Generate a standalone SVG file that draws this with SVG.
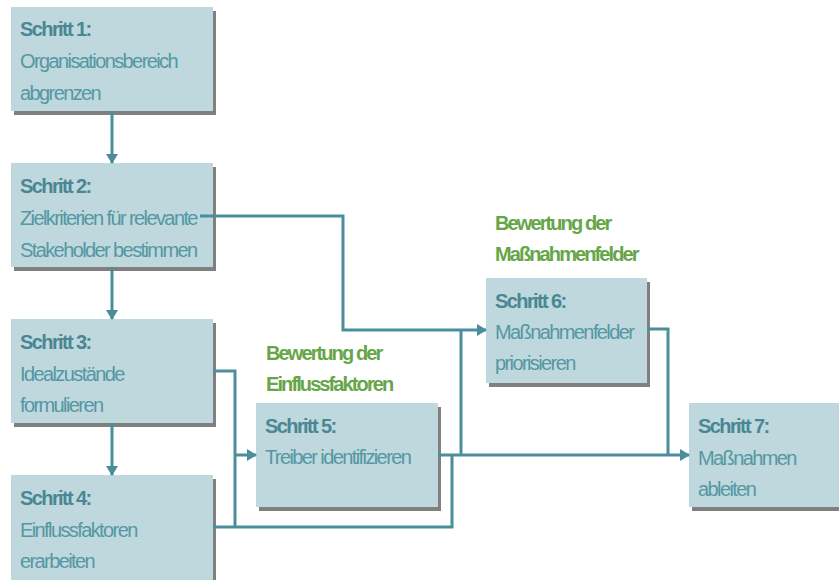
<svg xmlns="http://www.w3.org/2000/svg" width="839" height="580" viewBox="0 0 839 580">
<defs>
<style>
.box{fill:#bed8de}
.sh{fill:#808080}
text{font-family:"Liberation Sans",Arial,sans-serif;font-size:20px;letter-spacing:-1.6px}
.t{font-weight:bold;fill:#4a8794}
.b{fill:#5597a3}
.g{font-weight:bold;fill:#66a648;letter-spacing:-1.9px}
.c{fill:none;stroke:#4a8e9c;stroke-width:3}
</style>
<marker id="ah" markerUnits="userSpaceOnUse" markerWidth="10" markerHeight="12" refX="9" refY="6" orient="auto">
<path d="M0,0 L10,6 L0,12 z" fill="#4a8e9c"/>
</marker>
</defs>
<rect width="839" height="580" fill="#ffffff"/>

<g id="step1">
<rect class="sh" x="14" y="11" width="202" height="104"/>
<rect class="box" x="11" y="7" width="202" height="104"/>
<text class="t" x="20" y="36">Schritt 1:</text>
<text class="b" x="20" y="68">Organisationsbereich</text>
<text class="b" x="20" y="100">abgrenzen</text>
</g>

<g id="step2">
<rect class="sh" x="14" y="167" width="202" height="104"/>
<rect class="box" x="11" y="163" width="202" height="104"/>
<text class="t" x="20" y="193">Schritt 2:</text>
<text class="b" x="20" y="225">Zielkriterien für relevante</text>
<text class="b" x="20" y="257">Stakeholder bestimmen</text>
</g>

<g id="step3">
<rect class="sh" x="14" y="323" width="202" height="104"/>
<rect class="box" x="11" y="319" width="202" height="104"/>
<text class="t" x="20" y="349">Schritt 3:</text>
<text class="b" x="20" y="381">Idealzustände</text>
<text class="b" x="20" y="412">formulieren</text>
</g>

<g id="step4">
<rect class="sh" x="14" y="479" width="202" height="104"/>
<rect class="box" x="11" y="475" width="202" height="110"/>
<text class="t" x="20" y="505">Schritt 4:</text>
<text class="b" x="20" y="537">Einflussfaktoren</text>
<text class="b" x="20" y="568">erarbeiten</text>
</g>

<g id="label5">
<text class="g" x="266" y="360">Bewertung der</text>
<text class="g" x="266" y="391">Einflussfaktoren</text>
</g>

<g id="step5">
<rect class="sh" x="259" y="407" width="182" height="104"/>
<rect class="box" x="256" y="403" width="182" height="104"/>
<text class="t" x="265" y="433">Schritt 5:</text>
<text class="b" x="265" y="464">Treiber identifizieren</text>
</g>

<g id="label6">
<text class="g" x="495" y="230">Bewertung der</text>
<text class="g" x="495" y="261">Maßnahmenfelder</text>
</g>

<g id="step6">
<rect class="sh" x="489" y="282" width="161" height="105"/>
<rect class="box" x="486" y="278" width="161" height="105"/>
<text class="t" x="495" y="308">Schritt 6:</text>
<text class="b" x="495" y="339">Maßnahmenfelder</text>
<text class="b" x="495" y="370">priorisieren</text>
</g>

<g id="step7">
<rect class="sh" x="692" y="407" width="150" height="104"/>
<rect class="box" x="689" y="403" width="150" height="104"/>
<text class="t" x="698" y="433">Schritt 7:</text>
<text class="b" x="698" y="465">Maßnahmen</text>
<text class="b" x="698" y="496">ableiten</text>
</g>

<g id="connectors">
<path class="c" d="M112,111 V163" marker-end="url(#ah)"/>
<path class="c" d="M112,267 V319" marker-end="url(#ah)"/>
<path class="c" d="M112,423 V475" marker-end="url(#ah)"/>
<path class="c" d="M200,216 H343 V330 H486" marker-end="url(#ah)"/>
<path class="c" d="M213,371 H235 V527"/>
<path class="c" d="M235,455 H256" marker-end="url(#ah)"/>
<path class="c" d="M213,527 H452 V455"/>
<path class="c" d="M438,455 H689" marker-end="url(#ah)"/>
<path class="c" d="M461,455 V330"/>
<path class="c" d="M647,329 H668 V455"/>
</g>
</svg>
